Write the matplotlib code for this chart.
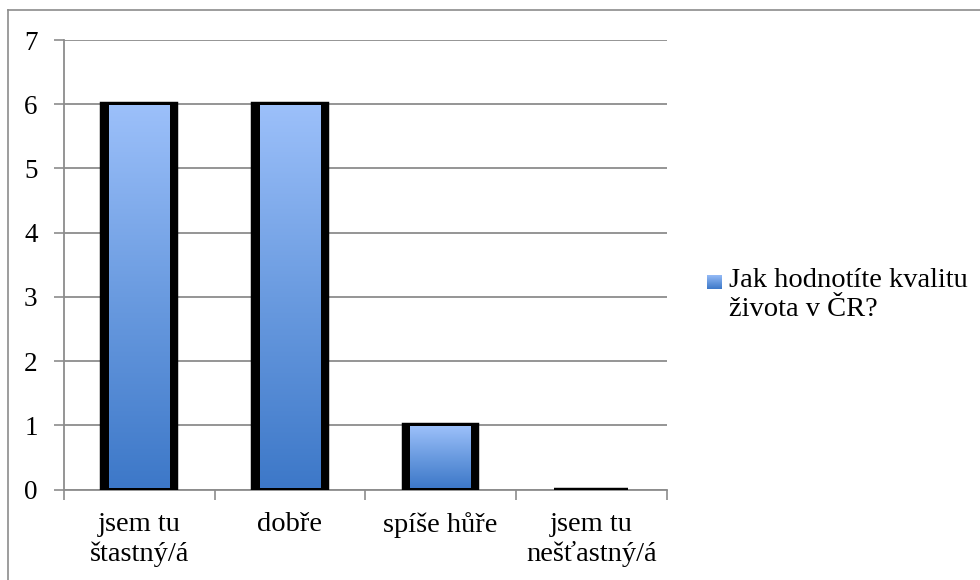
import numpy as np
import matplotlib
matplotlib.use("Agg")
import matplotlib.pyplot as plt
from matplotlib.colors import LinearSegmentedColormap
from matplotlib.lines import Line2D

# Survey answers and counts
categories = ["jsem tu\nštastný/á", "dobře", "spíše hůře", "jsem tu\nnešťastný/á"]
counts = [6, 6, 1, 0]
series_name = "Jak hodnotíte kvalitu\nživota v ČR?"
y_ticks = [0, 1, 2, 3, 4, 5, 6, 7]

plt.rcParams['font.family'] = ['Liberation Serif', 'DejaVu Serif']

W, H = 980, 580
fig = plt.figure(figsize=(W / 100, H / 100), dpi=100)

# outer chart frame (only left and top edges fall inside the canvas)
fig.add_artist(Line2D([8 / W, 8 / W], [0, 1 - 10 / H], color="#8c8c8c", lw=1.2,
                      transform=fig.transFigure))
fig.add_artist(Line2D([8 / W, 1], [1 - 10 / H, 1 - 10 / H], color="#8c8c8c", lw=1.2,
                      transform=fig.transFigure))

x0, x1 = 64, 666.5
y0, y1 = 489.5, 40
ax = fig.add_axes([x0 / W, (H - y0) / H, (x1 - x0) / W, (y0 - y1) / H])

grad_cmap = LinearSegmentedColormap.from_list(
    "bluegrad", ["#3d78c8", "#6a9be0", "#9cc0fa"])
gradient = np.linspace(0, 1, 256).reshape(-1, 1)

xs = np.arange(len(categories))
outer_w = 0.49
inner_w = 0.403
for x, v in zip(xs, counts):
    # black frame of the bar
    ax.bar(x, v, width=outer_w, color="black", edgecolor="black",
           linewidth=3.2, zorder=3)
    if v > 0:
        ax.imshow(gradient, extent=[x - inner_w / 2, x + inner_w / 2, 0.02, v - 0.03],
                  origin="lower", aspect="auto", cmap=grad_cmap, zorder=4,
                  interpolation="bilinear")

ax.set_xlim(-0.5, len(categories) - 0.5)
ax.set_ylim(0, 7)
ax.set_yticks(y_ticks)
ax.set_yticklabels([str(t) for t in y_ticks], fontsize=19.5)
ax.set_xticks(np.arange(len(categories) + 1) - 0.5, minor=False)
ax.set_xticklabels([])
ax.set_xticks(xs, minor=True)
ax.set_xticklabels(categories, minor=True, fontsize=20.5, linespacing=1.22)
ax.tick_params(axis="x", which="minor", length=0, pad=16)
ax.tick_params(axis="x", which="major", length=7, width=1.2, color="#8c8c8c")
ax.tick_params(axis="y", length=7, width=1.2, color="#8c8c8c", pad=12)

ax.yaxis.grid(True, color="#8c8c8c", lw=1.3, zorder=0)
ax.set_axisbelow(True)
for s in ["top", "right"]:
    ax.spines[s].set_visible(False)
for s in ["left", "bottom"]:
    ax.spines[s].set_color("#8c8c8c")
    ax.spines[s].set_linewidth(1.3)
ax.spines["bottom"].set_zorder(2)

# legend: gradient swatch plus series name
sw = fig.add_axes([707 / W, (H - 289) / H, 15 / W, 14 / H])
sw.imshow(gradient, origin="lower", aspect="auto", cmap=grad_cmap,
          extent=[0, 1, 0, 1])
sw.axis("off")
fig.text(729 / W, 1 - 268 / H, series_name, fontsize=20.5, va="top", ha="left",
         linespacing=1.22)

fig.savefig("out.png", dpi=100)
